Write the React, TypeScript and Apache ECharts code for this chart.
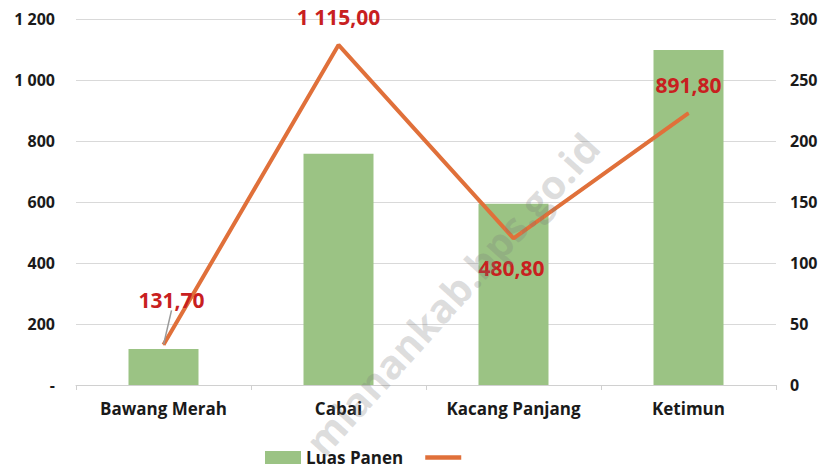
import React, { useEffect, useRef } from "react";
import * as echarts from "echarts";

const categories = ["Bawang Merah", "Cabai", "Kacang Panjang", "Ketimun"];
const luasPanen = [29.5, 189.5, 148.5, 274.5];
const produksi = [131.7, 1115.0, 480.8, 891.8];
const leftTicks = [0, 200, 400, 600, 800, 1000, 1200];
const rightTicks = [0, 50, 100, 150, 200, 250, 300];
const labelOffsets: [number, number][] = [
  [8, -45],
  [0, -28],
  [-2, 30],
  [0, -28],
];

const fmt = (v: number) => {
  const [i, d] = v.toFixed(2).split(".");
  return i.replace(/\B(?=(\d{3})+(?!\d))/g, " ") + "," + d;
};
const fmtInt = (v: number) =>
  v === 0 ? "-" : String(v).replace(/\B(?=(\d{3})+(?!\d))/g, " ");

export default function App() {
  const ref = useRef<HTMLDivElement>(null);
  useEffect(() => {
    if (!ref.current) return;
    const chart = echarts.init(ref.current, undefined, { renderer: "svg" });
    const font = "'Open Sans', 'Noto Sans', sans-serif";
    chart.setOption({
      animation: false,
      textStyle: { fontFamily: font },
      grid: { left: 76, right: 54, top: 19, bottom: 87 },
      legend: {
        bottom: 1,
        left: 260,
        itemWidth: 36,
        itemHeight: 13,
        itemGap: 22,
        data: [
          { name: "Luas Panen", icon: "rect" },
          { name: " ", icon: "path://M0,0 L40,0 L40,5 L0,5 Z" },
        ],
        textStyle: { fontSize: 17, fontWeight: "bold", color: "#1a1a1a", fontFamily: font },
      },
      xAxis: {
        type: "category",
        data: categories,
        axisLine: { lineStyle: { color: "#d0d0d0", width: 1 } },
        axisTick: { show: true, length: 5, lineStyle: { color: "#d0d0d0" } },
        axisLabel: { fontSize: 17, fontWeight: "bold", color: "#1a1a1a", margin: 15 },
      },
      yAxis: [
        {
          type: "value",
          min: 0,
          max: 1200,
          interval: 200,
          axisLabel: {
            fontSize: 16,
            fontWeight: "bold",
            color: "#1a1a1a",
            margin: 21,
            formatter: (v: number) => fmtInt(v),
          },
          splitLine: { lineStyle: { color: "#d9d9d9", width: 1 } },
          axisLine: { show: false },
          axisTick: { show: false },
        },
        {
          type: "value",
          min: 0,
          max: 300,
          interval: 50,
          position: "right",
          axisLabel: { fontSize: 16, fontWeight: "bold", color: "#1a1a1a", margin: 14 },
          splitLine: { show: false },
          axisLine: { show: false },
          axisTick: { show: false },
        },
      ],
      series: [
        {
          name: "Luas Panen",
          type: "bar",
          yAxisIndex: 1,
          data: luasPanen,
          barWidth: "40%",
          itemStyle: { color: "#9bc384" },
        },
        {
          name: " ",
          type: "line",
          yAxisIndex: 0,
          data: produksi.map((v, i) => ({
            value: v,
            label: { offset: labelOffsets[i] },
            labelLine: { show: i === 0 },
          })),
          symbol: "circle",
          symbolSize: 1,
          showSymbol: true,
          lineStyle: { color: "#e0703a", width: 4 },
          itemStyle: { color: "#e0703a" },
          label: {
            show: true,
            position: "inside",
            fontSize: 21,
            fontWeight: "bold",
            color: "#c8201f",
            formatter: (p: any) => fmt(p.value),
          },
          labelLine: { show: false, lineStyle: { color: "#999", width: 1.5 } },
          z: 3,
        },
      ],
      graphic: [
        {
          type: "text",
          x: 452,
          y: 294,
          rotation: (48 * Math.PI) / 180,
          originX: 0,
          originY: 0,
          z: 100,
          style: {
            text: "mianankab.bps.go.id",
            font: "bold 40px 'Open Sans', sans-serif",
            fill: "rgba(120,120,120,0.25)",
            align: "center",
            verticalAlign: "middle",
          },
        },
      ],
    });
    return () => chart.dispose();
  }, []);
  return (
    <div
      ref={ref}
      style={{ position: "fixed", left: 0, top: 0, width: 830, height: 472, background: "#fff" }}
    />
  );
}
